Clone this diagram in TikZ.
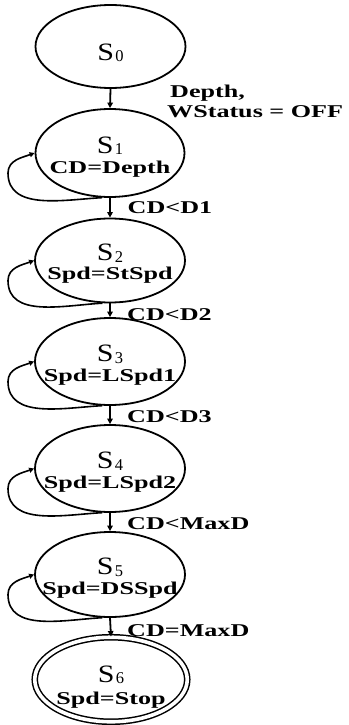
\documentclass[tikz,border=0pt]{standalone}
\usepackage{fontspec}
\setmainfont{Liberation Serif}
\usepackage{graphicx}
\usetikzlibrary{shapes.geometric,arrows.meta,calc}

% state name: S with a subscript index
\newcommand\stname[1]{\scalebox{1.2}[1]{\fontsize{25}{25}\selectfont S}\kern1.5pt\raisebox{-1.5pt}{\fontsize{16.5}{16.5}\selectfont #1}}
% bold, widened action / condition text
\newcommand\acttext[1]{\scalebox{1.45}[1]{#1}}

\tikzset{
  state/.style={ellipse, draw, line width=1.8pt, inner sep=0pt,
    minimum width=150pt, minimum height=84pt},
  final/.style={state, line width=1.5pt, double, double distance=3.6pt,
    minimum width=152.5pt, minimum height=84.5pt},
  trans/.style={line width=1.8pt, -{Triangle[length=5.5pt,width=5.5pt]}},
  selfloop/.style={line width=1.6pt, -{Triangle[length=5pt,width=5pt]}},
  nm/.style={anchor=base, inner sep=0pt},
  act/.style={anchor=base, inner sep=0pt, font=\fontsize{18}{18}\selectfont\bfseries},
  cond/.style={anchor=base west, inner sep=0pt, font=\fontsize{18}{18}\selectfont\bfseries},
}

\begin{document}
\begin{tikzpicture}[x=1pt,y=1pt]
\useasboundingbox (0,0) rectangle (348,-725);

% states
\node[state, minimum height=83pt] (s0) at (110.5,-46.5) {};
\node[state, minimum width=149pt, minimum height=88pt] (s1) at (110,-153) {};
\node[state] (s2) at (110,-260.5) {};
\node[state, minimum height=87pt] (s3) at (110,-361.5) {};
\node[state, minimum height=87pt] (s4) at (110,-468.5) {};
\node[state, minimum height=85pt] (s5) at (110,-574.5) {};
\node[final] (s6) at (111,-679.5) {};

% state texts
\node[nm] (n0) at ($(s0.center)+(0,-13.5)$) {\stname{0}};
\node[nm] (n1) at (s1.center) {\stname{1}};
\node[act] (a1) at ($(s1.center)+(0,-20)$) {\acttext{CD=Depth}};
\node[nm] (n2) at (s2.center) {\stname{2}};
\node[act] (a2) at ($(s2.center)+(0,-19)$) {\acttext{Spd=StSpd}};
\node[nm] (n3) at (s3.center) {\stname{3}};
\node[act] (a3) at ($(s3.center)+(0,-20)$) {\acttext{Spd=LSpd1}};
\node[nm] (n4) at (s4.center) {\stname{4}};
\node[act] (a4) at ($(s4.center)+(0,-20)$) {\acttext{Spd=LSpd2}};
\node[nm] (n5) at (s5.center) {\stname{5}};
\node[act] (a5) at ($(s5.center)+(0,-20)$) {\acttext{Spd=DSSpd}};
\node[nm] (n6) at ($(s6.center)+(0,-2.5)$) {\stname{6}};
\node[act] (a6) at ($(s6.center)+(0,-25)$) {\acttext{Spd=Stop}};

% transitions
\draw[trans] (s0.south) -- (s1.north);
\draw[trans] (s1.south) -- (s2.north);
\draw[trans] (s2.south) -- (s3.north);
\draw[trans] (s3.south) -- (s4.north);
\draw[trans] (s4.south) -- (s5.north);
\draw[trans] (s5.south) -- (s6.north);

% transition conditions
\node[cond] (c0a) at (170,-97) {\acttext{Depth,}};
\node[cond] (c0b) at (167,-117) {\acttext{WStatus = OFF}};
\node[cond] (c1) at (127.5,-213) {\acttext{CD<D1}};
\node[cond] (c2) at (127,-320) {\acttext{CD<D2}};
\node[cond] (c3) at (127,-422) {\acttext{CD<D3}};
\node[cond] (c4) at (127,-529) {\acttext{CD<MaxD}};
\node[cond] (c5) at (127,-636) {\acttext{CD=MaxD}};

% self loops on the left side
\foreach \s in {s1,s2,s3,s4,s5}{
  \draw[selfloop] (\s.-100) to[out=183,in=-90] ($(\s.center)+(-102,-20)$)
    to[out=90,in=200] (\s.west);
}
\end{tikzpicture}
\end{document}
